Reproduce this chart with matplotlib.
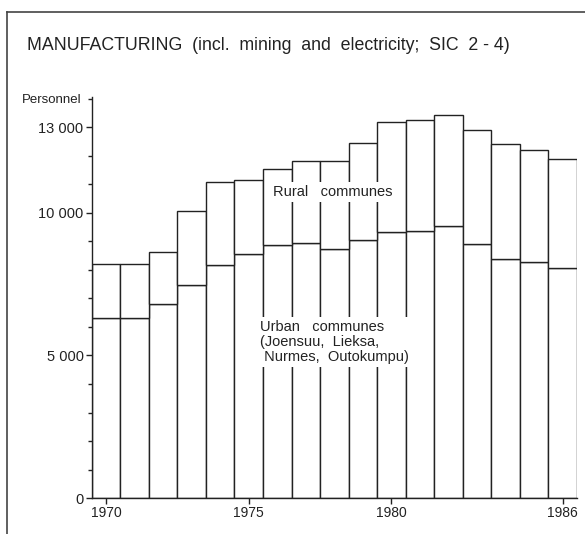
import matplotlib
matplotlib.use("Agg")
import matplotlib.pyplot as plt
from matplotlib.lines import Line2D
from matplotlib.ticker import MultipleLocator

plt.rcParams['font.family'] = ['Liberation Sans', 'DejaVu Sans']

# personnel in manufacturing
years = list(range(1970, 1987))
total = [8210, 8210, 8630, 10060, 11100, 11160, 11540, 11840, 11810,
         12440, 13200, 13270, 13430, 12920, 12420, 12200, 11890]
urban = [6320, 6320, 6810, 7490, 8180, 8570, 8880, 8940, 8750,
         9040, 9330, 9380, 9530, 8920, 8400, 8290, 8070]
rural = [t - u for t, u in zip(total, urban)]

year_ticks = [1970, 1975, 1980, 1986]
y_ticks = [0, 5000, 10000, 13000]
y_labels = ['0', '5 000', '10 000', '13 000']

ink = '#222222'

fig = plt.figure(figsize=(5.85, 5.34), dpi=100)
ax = fig.add_axes([0.157, 0.0674, 0.829, 0.751])

ax.bar(years, urban, width=1.0, color='white', edgecolor=ink, linewidth=1.0)
ax.bar(years, rural, width=1.0, bottom=urban, color='white', edgecolor=ink, linewidth=1.0)

ax.set_xlim(1969.5, 1986.5)
ax.set_ylim(0, 14070)
ax.set_xticks(year_ticks)
ax.set_xticklabels([str(y) for y in year_ticks])
ax.set_yticks(y_ticks)
ax.set_yticklabels(y_labels)
ax.yaxis.set_minor_locator(MultipleLocator(1000))

for s in ['top', 'right']:
    ax.spines[s].set_visible(False)
for s in ['left', 'bottom']:
    ax.spines[s].set_color(ink)
    ax.spines[s].set_linewidth(1.0)

ax.tick_params(axis='both', which='major', direction='out', length=4, width=1.0,
               color=ink, labelcolor=ink, pad=2)
ax.tick_params(axis='x', labelsize=10)
ax.tick_params(axis='y', labelsize=10.5)
ax.tick_params(axis='y', which='minor', direction='out', length=3, width=1.0, color=ink)

ax.text(1975.85, 10737, 'Rural   communes', fontsize=10.5, color=ink, va='center', ha='left',
        bbox=dict(facecolor='white', edgecolor='none', pad=2))
ax.text(1975.39, 5480, 'Urban   communes\n(Joensuu,  Lieksa,\n Nurmes,  Outokumpu)',
        fontsize=10.5, color=ink, va='center', ha='left', linespacing=1.1,
        bbox=dict(facecolor='white', edgecolor='none', pad=2))

fig.text(27 / 585, 1 - 45 / 534, 'MANUFACTURING  (incl.  mining  and  electricity;  SIC  2 - 4)',
         fontsize=12.8, color=ink, va='center', ha='left')
fig.text(22 / 585, 1 - 100 / 534, 'Personnel', fontsize=9.5, color=ink, va='center', ha='left')

# the frame around the figure (top and left side only)
fig.add_artist(Line2D([7 / 585, 1.0], [1 - 12 / 534, 1 - 12 / 534], color='#444444', linewidth=1.2))
fig.add_artist(Line2D([7 / 585, 7 / 585], [1 - 12 / 534, 0.0], color='#444444', linewidth=1.2))

fig.savefig('out.png', dpi=100)
